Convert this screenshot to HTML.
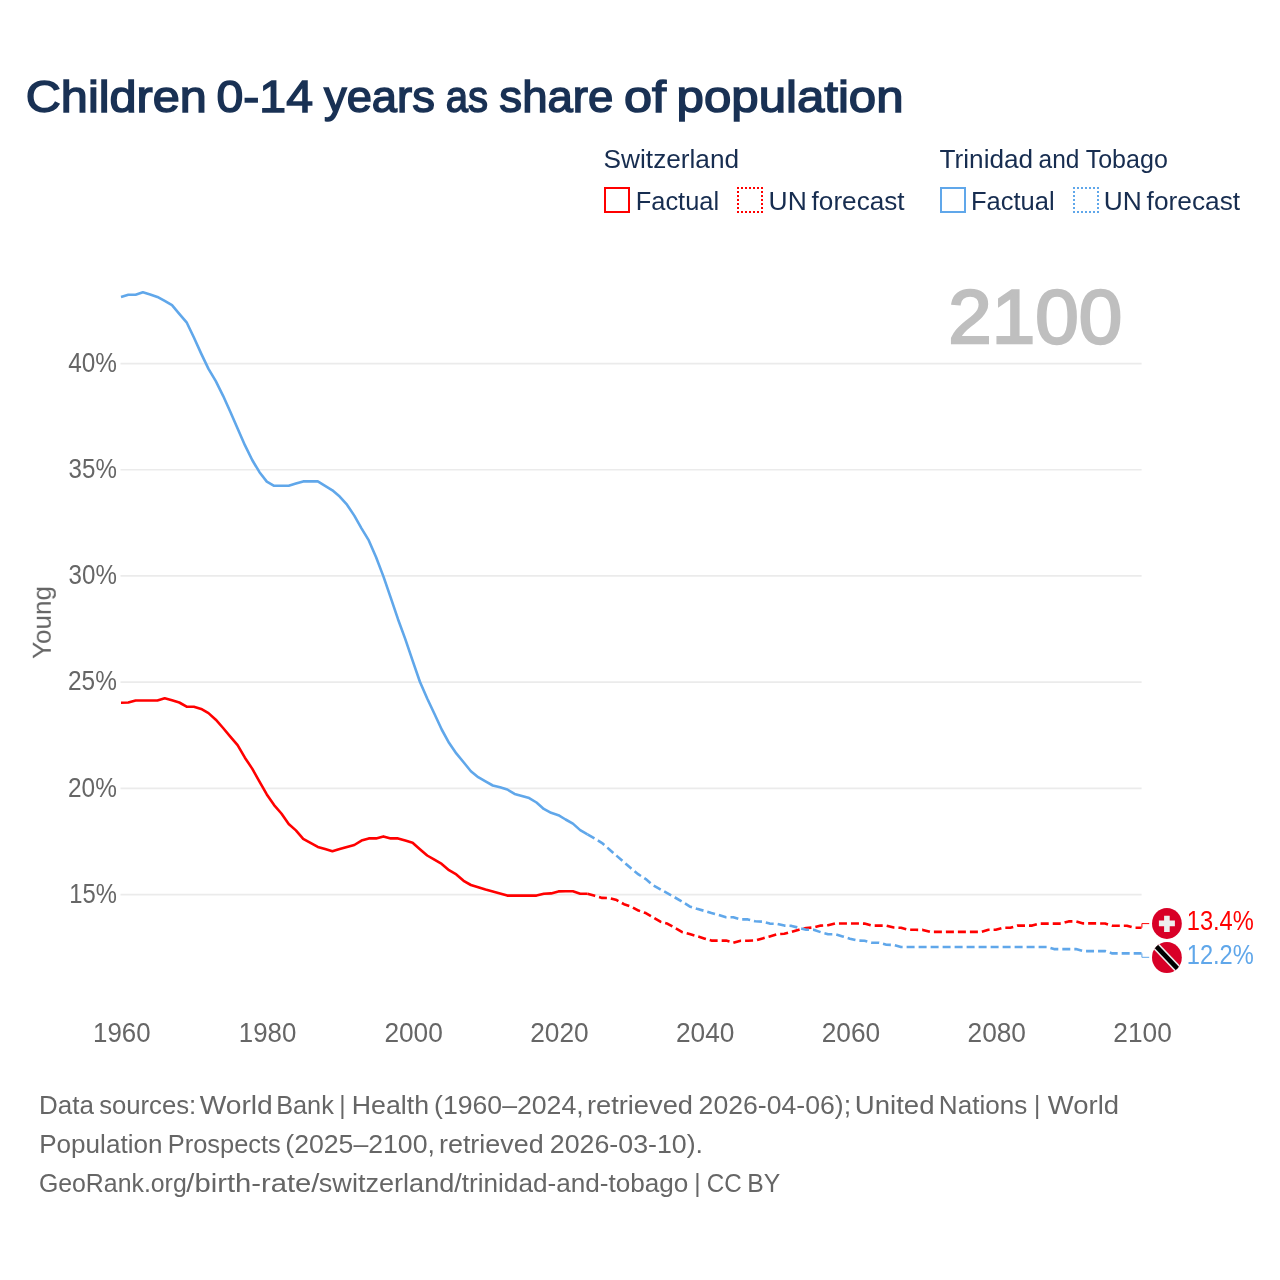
<!DOCTYPE html>
<html lang="en">
<head>
<meta charset="utf-8">
<title>Children 0-14 years as share of population</title>
<style>
html,body{margin:0;padding:0;background:#ffffff;}
body{width:1280px;height:1280px;overflow:hidden;font-family:"Liberation Sans",sans-serif;}
svg{display:block;}
svg text{font-family:"Liberation Sans",sans-serif;}
</style>
</head>
<body>
<svg width="1280" height="1280" viewBox="0 0 1280 1280">
<rect x="0" y="0" width="1280" height="1280" fill="#ffffff"/>
<g stroke="#ebebeb" stroke-width="1.7" fill="none">
<line x1="120.5" y1="363.54" x2="1141.6" y2="363.54"/>
<line x1="120.5" y1="469.75" x2="1141.6" y2="469.75"/>
<line x1="120.5" y1="575.95" x2="1141.6" y2="575.95"/>
<line x1="120.5" y1="682.15" x2="1141.6" y2="682.15"/>
<line x1="120.5" y1="788.36" x2="1141.6" y2="788.36"/>
<line x1="120.5" y1="894.57" x2="1141.6" y2="894.57"/>
</g>
<rect x="605.0" y="188.0" width="24" height="24" fill="none" stroke="#ff0000" stroke-width="2"/>
<path d="M737 187h2v2h-2zM737 191h2v2h-2zM737 195h2v2h-2zM737 199h2v2h-2zM737 203h2v2h-2zM737 207h2v2h-2zM737 211h2v2h-2zM741 187h2v2h-2zM741 211h2v2h-2zM745 187h2v2h-2zM745 211h2v2h-2zM749 187h2v2h-2zM749 211h2v2h-2zM753 187h2v2h-2zM753 211h2v2h-2zM757 187h2v2h-2zM757 211h2v2h-2zM761 187h2v2h-2zM761 191h2v2h-2zM761 195h2v2h-2zM761 199h2v2h-2zM761 203h2v2h-2zM761 207h2v2h-2zM761 211h2v2h-2z" fill="#ff0000"/>
<rect x="941.0" y="188.0" width="24" height="24" fill="none" stroke="#60a7ea" stroke-width="2"/>
<path d="M1073 187h2v2h-2zM1073 191h2v2h-2zM1073 195h2v2h-2zM1073 199h2v2h-2zM1073 203h2v2h-2zM1073 207h2v2h-2zM1073 211h2v2h-2zM1077 187h2v2h-2zM1077 211h2v2h-2zM1081 187h2v2h-2zM1081 211h2v2h-2zM1085 187h2v2h-2zM1085 211h2v2h-2zM1089 187h2v2h-2zM1089 211h2v2h-2zM1093 187h2v2h-2zM1093 211h2v2h-2zM1097 187h2v2h-2zM1097 191h2v2h-2zM1097 195h2v2h-2zM1097 199h2v2h-2zM1097 203h2v2h-2zM1097 207h2v2h-2zM1097 211h2v2h-2z" fill="#60a7ea"/>
<path d="M121.0 702.7 L128.3 702.5 L135.6 700.5 L142.9 700.5 L150.2 700.5 L157.4 700.5 L164.7 698.3 L172.0 700.3 L179.3 702.5 L186.6 706.7 L193.9 706.7 L201.2 708.9 L208.5 713.1 L215.8 719.7 L223.1 728.0 L230.3 736.6 L237.6 745.2 L244.9 757.7 L252.2 768.6 L259.5 781.6 L266.8 794.4 L274.1 805.1 L281.4 813.5 L288.7 824.0 L295.9 830.4 L303.2 838.8 L310.5 842.8 L317.8 846.9 L325.1 849.1 L332.4 851.2 L339.7 849.1 L347.0 847.0 L354.3 845.0 L361.5 840.6 L368.8 838.4 L376.1 838.4 L383.4 836.4 L390.7 838.4 L398.0 838.4 L405.3 840.6 L412.6 842.7 L419.9 849.2 L427.2 855.5 L434.4 859.7 L441.7 863.9 L449.0 870.2 L456.3 874.4 L463.6 880.8 L470.9 885.0 L478.2 887.2 L485.5 889.4 L492.8 891.4 L500.0 893.4 L507.3 895.6 L514.6 895.6 L521.9 895.6 L529.2 895.6 L536.5 895.6 L543.8 893.8 L551.1 893.4 L558.4 891.4 L565.6 891.3 L572.9 891.3 L580.2 893.7 L587.5 893.7" fill="none" stroke="#ff0000" stroke-width="2.6" stroke-linejoin="round" stroke-linecap="butt"/>
<path d="M587.5 893.7 L594.8 895.8 L602.1 897.9 L609.4 898.1 L616.7 900.1 L624.0 904.2 L631.3 906.6 L638.5 910.6 L645.8 913.1 L653.1 917.3 L660.4 921.7 L667.7 923.8 L675.0 928.0 L682.3 932.2 L689.6 934.1 L696.9 936.2 L704.1 938.4 L711.4 940.6 L718.7 940.6 L726.0 940.6 L733.3 942.7 L740.6 940.7 L747.9 940.7 L755.2 940.5 L762.5 938.4 L769.7 936.4 L777.0 934.2 L784.3 933.8 L791.6 931.9 L798.9 929.8 L806.2 928.0 L813.5 927.5 L820.8 925.6 L828.1 925.2 L835.4 923.5 L842.6 923.5 L849.9 923.5 L857.2 923.5 L864.5 923.6 L871.8 925.6 L879.1 925.6 L886.4 925.6 L893.7 927.5 L901.0 927.8 L908.2 929.8 L915.5 929.8 L922.8 929.9 L930.1 931.9 L937.4 931.9 L944.7 931.9 L952.0 931.9 L959.3 931.9 L966.6 931.9 L973.8 931.9 L981.1 931.9 L988.4 929.8 L995.7 929.8 L1003.0 927.8 L1010.3 927.8 L1017.6 925.6 L1024.9 925.6 L1032.2 925.6 L1039.5 923.6 L1046.7 923.6 L1054.0 923.6 L1061.3 923.6 L1068.6 921.4 L1075.9 921.4 L1083.2 923.4 L1090.5 923.4 L1097.8 923.4 L1105.1 923.5 L1112.3 925.7 L1119.6 925.7 L1126.9 925.7 L1134.2 927.7 L1141.5 927.7" fill="none" stroke="#ff0000" stroke-width="2.6" stroke-linejoin="round" stroke-linecap="butt" stroke-dasharray="8 4"/>
<path d="M121.0 296.9 L128.3 294.7 L135.6 294.7 L142.9 292.3 L150.2 294.4 L157.4 296.9 L164.7 300.9 L172.0 305.2 L179.3 313.8 L186.6 322.3 L193.9 337.5 L201.2 353.6 L208.5 368.9 L215.8 381.2 L223.1 395.8 L230.3 411.8 L237.6 428.5 L244.9 445.2 L252.2 460.0 L259.5 472.2 L266.8 481.6 L274.1 485.8 L281.4 485.8 L288.7 485.8 L295.9 483.6 L303.2 481.4 L310.5 481.4 L317.8 481.4 L325.1 485.9 L332.4 490.3 L339.7 496.6 L347.0 504.7 L354.3 515.6 L361.5 528.3 L368.8 540.4 L376.1 557.2 L383.4 576.4 L390.7 597.7 L398.0 619.2 L405.3 639.1 L412.6 660.7 L419.9 681.8 L427.2 698.5 L434.4 713.8 L441.7 729.5 L449.0 742.8 L456.3 753.4 L463.6 762.3 L470.9 771.2 L478.2 777.2 L485.5 781.4 L492.8 785.5 L500.0 787.3 L507.3 789.5 L514.6 793.9 L521.9 795.9 L529.2 798.1 L536.5 802.5 L543.8 808.9 L551.1 812.8 L558.4 815.2 L565.6 819.5 L572.9 823.6 L580.2 830.1 L587.5 834.3" fill="none" stroke="#60a7ea" stroke-width="2.6" stroke-linejoin="round" stroke-linecap="butt"/>
<path d="M587.5 834.3 L594.8 838.5 L602.1 843.1 L609.4 849.4 L616.7 855.9 L624.0 862.2 L631.3 868.6 L638.5 874.4 L645.8 879.1 L653.1 885.3 L660.4 889.4 L667.7 893.4 L675.0 897.5 L682.3 901.7 L689.6 906.4 L696.9 908.8 L704.1 910.8 L711.4 913.0 L718.7 915.0 L726.0 917.3 L733.3 917.3 L740.6 919.4 L747.9 919.4 L755.2 921.3 L762.5 921.6 L769.7 923.6 L777.0 923.9 L784.3 925.6 L791.6 925.9 L798.9 927.8 L806.2 929.8 L813.5 929.8 L820.8 932.2 L828.1 934.2 L835.4 934.2 L842.6 936.4 L849.9 938.8 L857.2 940.5 L864.5 940.8 L871.8 942.7 L879.1 942.7 L886.4 944.7 L893.7 945.0 L901.0 947.0 L908.2 947.0 L915.5 947.0 L922.8 947.0 L930.1 947.0 L937.4 947.0 L944.7 947.0 L952.0 947.0 L959.3 947.0 L966.6 947.0 L973.8 947.0 L981.1 947.0 L988.4 947.0 L995.7 947.0 L1003.0 947.0 L1010.3 947.0 L1017.6 947.0 L1024.9 947.0 L1032.2 947.0 L1039.5 947.0 L1046.7 947.0 L1054.0 949.1 L1061.3 949.1 L1068.6 949.1 L1075.9 949.1 L1083.2 951.1 L1090.5 951.1 L1097.8 951.1 L1105.1 951.1 L1112.3 953.4 L1119.6 953.4 L1126.9 953.4 L1134.2 953.4 L1141.5 953.4" fill="none" stroke="#60a7ea" stroke-width="2.6" stroke-linejoin="round" stroke-linecap="butt" stroke-dasharray="8 4"/>
<path d="M1141.9 927.7 V923.6 H1149.2" fill="none" stroke="#ff0000" stroke-width="1"/>
<path d="M1141.9 953.4 V957.3 H1149.2" fill="none" stroke="#60a7ea" stroke-width="1"/>
<defs><clipPath id="cf1"><ellipse cx="1166.9" cy="923.45" rx="14.9" ry="15.45"/></clipPath><clipPath id="cf2"><ellipse cx="1166.9" cy="957.5" rx="14.9" ry="15.5"/></clipPath></defs>
<g clip-path="url(#cf1)"><rect x="1150" y="905" width="34" height="36" fill="#d80027"/><path d="M1158.9 920.6h5.2v-4.9h5.6v4.9h5.2v5.7h-5.2v5.6h-5.6v-5.6h-5.2z" fill="#eeeeee"/></g>
<g clip-path="url(#cf2)"><rect x="1150" y="940" width="34" height="36" fill="#d80027"/><path d="M1146.9 936.5 L1186.9 978.5" stroke="#eeeeee" stroke-width="7.8" fill="none"/><path d="M1146.9 936.5 L1186.9 978.5" stroke="#000000" stroke-width="4.7" fill="none"/></g>
<g style="opacity:0.999">
<text transform="translate(25.70 112.30) scale(1.0862 1.0000)" font-size="44.8" font-weight="normal" fill="#193154" stroke="#193154" stroke-width="1.5" stroke-linejoin="miter">Children</text>
<text transform="translate(216.53 112.30) scale(1.0754 1.0000)" font-size="44.8" font-weight="normal" fill="#193154" stroke="#193154" stroke-width="1.5" stroke-linejoin="miter">0-14</text>
<text transform="translate(323.98 112.30) scale(1.0124 1.0000)" font-size="44.8" font-weight="normal" fill="#193154" stroke="#193154" stroke-width="1.5" stroke-linejoin="miter">years</text>
<text transform="translate(445.77 112.30) scale(0.8955 1.0000)" font-size="44.8" font-weight="normal" fill="#193154" stroke="#193154" stroke-width="1.5" stroke-linejoin="miter">as</text>
<text transform="translate(499.36 112.30) scale(1.0180 1.0000)" font-size="44.8" font-weight="normal" fill="#193154" stroke="#193154" stroke-width="1.5" stroke-linejoin="miter">share</text>
<text transform="translate(623.94 112.30) scale(1.1274 1.0000)" font-size="44.8" font-weight="normal" fill="#193154" stroke="#193154" stroke-width="1.5" stroke-linejoin="miter">of</text>
<text transform="translate(676.62 112.30) scale(1.0979 1.0000)" font-size="44.8" font-weight="normal" fill="#193154" stroke="#193154" stroke-width="1.5" stroke-linejoin="miter">population</text>
<text transform="translate(603.60 168.00) scale(1.0010 1.0000)" font-size="26.2" font-weight="normal" fill="#172d50">Switzerland</text>
<text transform="translate(635.72 209.70) scale(0.9710 1.0000)" font-size="26.2" font-weight="normal" fill="#172d50">Factual</text>
<text transform="translate(768.58 209.70) scale(1.0097 1.0000)" font-size="26.2" font-weight="normal" fill="#172d50">UN</text>
<text transform="translate(811.58 209.70) scale(0.9990 1.0000)" font-size="26.2" font-weight="normal" fill="#172d50">forecast</text>
<text transform="translate(939.57 168.00) scale(0.9992 1.0000)" font-size="26.2" font-weight="normal" fill="#172d50">Trinidad</text>
<text transform="translate(1038.53 168.00) scale(0.9343 1.0000)" font-size="26.2" font-weight="normal" fill="#172d50">and</text>
<text transform="translate(1085.65 168.00) scale(0.9564 1.0000)" font-size="26.2" font-weight="normal" fill="#172d50">Tobago</text>
<text transform="translate(970.92 209.70) scale(0.9747 1.0000)" font-size="26.2" font-weight="normal" fill="#172d50">Factual</text>
<text transform="translate(1103.68 209.70) scale(1.0068 1.0000)" font-size="26.2" font-weight="normal" fill="#172d50">UN</text>
<text transform="translate(1146.58 209.70) scale(1.0044 1.0000)" font-size="26.2" font-weight="normal" fill="#172d50">forecast</text>
<text transform="translate(948.30 343.10) scale(1.0215 1.0000)" font-size="76.5" font-weight="normal" fill="#bfbfbf" stroke="#bfbfbf" stroke-width="2.4" stroke-linejoin="miter">2100</text>
<text transform="translate(68.16 371.74) scale(0.9015 1.0000)" font-size="27" font-weight="normal" fill="#666666">40%</text>
<text transform="translate(68.56 477.95) scale(0.8938 1.0000)" font-size="27" font-weight="normal" fill="#666666">35%</text>
<text transform="translate(68.56 584.15) scale(0.8938 1.0000)" font-size="27" font-weight="normal" fill="#666666">30%</text>
<text transform="translate(68.03 690.35) scale(0.9039 1.0000)" font-size="27" font-weight="normal" fill="#666666">25%</text>
<text transform="translate(68.03 796.56) scale(0.9039 1.0000)" font-size="27" font-weight="normal" fill="#666666">20%</text>
<text transform="translate(69.21 902.77) scale(0.8816 1.0000)" font-size="27" font-weight="normal" fill="#666666">15%</text>
<text transform="translate(93.07 1041.60) scale(0.9575 1.0000)" font-size="27" font-weight="normal" fill="#666666">1960</text>
<text transform="translate(238.85 1041.60) scale(0.9575 1.0000)" font-size="27" font-weight="normal" fill="#666666">1980</text>
<text transform="translate(384.40 1041.60) scale(0.9733 1.0000)" font-size="27" font-weight="normal" fill="#666666">2000</text>
<text transform="translate(530.19 1041.60) scale(0.9733 1.0000)" font-size="27" font-weight="normal" fill="#666666">2020</text>
<text transform="translate(675.97 1041.60) scale(0.9733 1.0000)" font-size="27" font-weight="normal" fill="#666666">2040</text>
<text transform="translate(821.76 1041.60) scale(0.9733 1.0000)" font-size="27" font-weight="normal" fill="#666666">2060</text>
<text transform="translate(967.55 1041.60) scale(0.9733 1.0000)" font-size="27" font-weight="normal" fill="#666666">2080</text>
<text transform="translate(1113.33 1041.60) scale(0.9733 1.0000)" font-size="27" font-weight="normal" fill="#666666">2100</text>
<text transform="translate(1186.72 929.90) scale(0.8766 1.0000)" font-size="27" font-weight="normal" fill="#ff0000">13.4%</text>
<text transform="translate(1186.72 963.90) scale(0.8766 1.0000)" font-size="27" font-weight="normal" fill="#60a7ea">12.2%</text>
<text transform="translate(39.08 1113.80) scale(0.9923 1.0000)" font-size="26.2" font-weight="normal" fill="#666666">Data</text>
<text transform="translate(99.13 1113.80) scale(0.9811 1.0000)" font-size="26.2" font-weight="normal" fill="#666666">sources:</text>
<text transform="translate(199.66 1113.80) scale(1.0769 1.0000)" font-size="26.2" font-weight="normal" fill="#666666">World</text>
<text transform="translate(276.13 1113.80) scale(0.9662 1.0000)" font-size="26.2" font-weight="normal" fill="#666666">Bank</text>
<text transform="translate(339.28 1113.80) scale(0.9290 1.0000)" font-size="26.2" font-weight="normal" fill="#666666">|</text>
<text transform="translate(351.78 1113.80) scale(1.0199 1.0000)" font-size="26.2" font-weight="normal" fill="#666666">Health</text>
<text transform="translate(434.06 1113.80) scale(1.0170 1.0000)" font-size="26.2" font-weight="normal" fill="#666666">(1960–2024,</text>
<text transform="translate(586.93 1113.80) scale(1.0406 1.0000)" font-size="26.2" font-weight="normal" fill="#666666">retrieved</text>
<text transform="translate(698.62 1113.80) scale(1.0163 1.0000)" font-size="26.2" font-weight="normal" fill="#666666">2026-04-06);</text>
<text transform="translate(854.79 1113.80) scale(1.0533 1.0000)" font-size="26.2" font-weight="normal" fill="#666666">United</text>
<text transform="translate(938.87 1113.80) scale(0.9969 1.0000)" font-size="26.2" font-weight="normal" fill="#666666">Nations</text>
<text transform="translate(1034.08 1113.80) scale(0.9290 1.0000)" font-size="26.2" font-weight="normal" fill="#666666">|</text>
<text transform="translate(1047.87 1113.80) scale(1.0481 1.0000)" font-size="26.2" font-weight="normal" fill="#666666">World</text>
<text transform="translate(39.17 1152.80) scale(0.9966 1.0000)" font-size="26.2" font-weight="normal" fill="#666666">Population</text>
<text transform="translate(167.72 1152.80) scale(0.9708 1.0000)" font-size="26.2" font-weight="normal" fill="#666666">Prospects</text>
<text transform="translate(285.31 1152.80) scale(1.0170 1.0000)" font-size="26.2" font-weight="normal" fill="#666666">(2025–2100,</text>
<text transform="translate(438.95 1152.80) scale(1.0279 1.0000)" font-size="26.2" font-weight="normal" fill="#666666">retrieved</text>
<text transform="translate(549.86 1152.80) scale(1.0216 1.0000)" font-size="26.2" font-weight="normal" fill="#666666">2026-03-10).</text>
<text transform="translate(38.88 1191.80) scale(0.9492 1.0000)" font-size="26.2" font-weight="normal" fill="#666666">GeoRank.org</text>
<text transform="translate(186.27 1191.80) scale(1.1163 1.0000)" font-size="26.2" font-weight="normal" fill="#666666">/birth-rate/</text>
<text transform="translate(318.78 1191.80) scale(1.0344 1.0000)" font-size="26.2" font-weight="normal" fill="#666666">switzerland/</text>
<text transform="translate(461.76 1191.80) scale(0.9982 1.0000)" font-size="26.2" font-weight="normal" fill="#666666">trinidad-and-tobago</text>
<text transform="translate(694.28 1191.80) scale(0.9290 1.0000)" font-size="26.2" font-weight="normal" fill="#666666">|</text>
<text transform="translate(706.70 1191.80) scale(0.9257 1.0000)" font-size="26.2" font-weight="normal" fill="#666666">CC</text>
<text transform="translate(747.17 1191.80) scale(0.9448 1.0000)" font-size="26.2" font-weight="normal" fill="#666666">BY</text>
<text transform="translate(50.8 659.0) rotate(-90) scale(0.995 1)" font-size="26.2" fill="#666666">Young</text>
</g>
</svg>
</body>
</html>
